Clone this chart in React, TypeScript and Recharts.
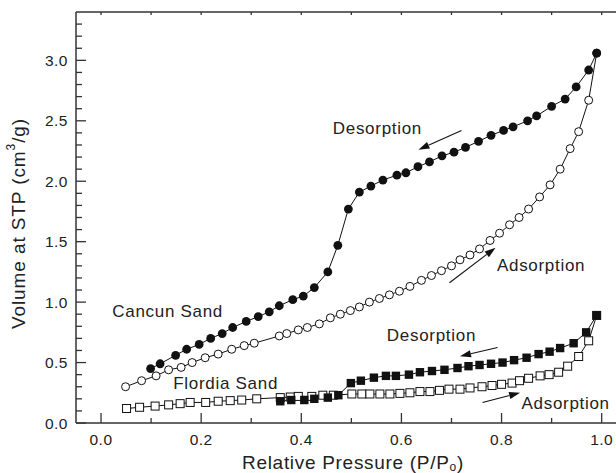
import React from 'react';
import { LineChart, Line, XAxis, YAxis, ReferenceDot, ReferenceLine, Label } from 'recharts';

// [P/P0, volume]
const cancunAdsorption = [
  [0.049, 0.30], [0.081, 0.35], [0.110, 0.39], [0.135, 0.44], [0.160, 0.46], [0.182, 0.50],
  [0.208, 0.54], [0.234, 0.57], [0.261, 0.61], [0.286, 0.64], [0.306, 0.66], [0.356, 0.72],
  [0.371, 0.74], [0.394, 0.77], [0.412, 0.79], [0.436, 0.82], [0.458, 0.87], [0.478, 0.90],
  [0.498, 0.93], [0.516, 0.96], [0.536, 1.00], [0.556, 1.03], [0.576, 1.06], [0.596, 1.09],
  [0.617, 1.13], [0.640, 1.18], [0.660, 1.22], [0.680, 1.26], [0.700, 1.30], [0.717, 1.35],
  [0.737, 1.39], [0.756, 1.44], [0.777, 1.51], [0.796, 1.57], [0.816, 1.64], [0.835, 1.70],
  [0.854, 1.77], [0.876, 1.87], [0.897, 1.97], [0.917, 2.10], [0.937, 2.27], [0.954, 2.41],
  [0.974, 2.67], [0.990, 3.06],
];

const cancunDesorption = [
  [0.099, 0.45], [0.118, 0.49], [0.149, 0.56], [0.171, 0.61], [0.196, 0.65], [0.219, 0.70],
  [0.242, 0.74], [0.263, 0.79], [0.290, 0.84], [0.314, 0.88], [0.336, 0.92], [0.356, 0.97],
  [0.383, 1.02], [0.404, 1.05], [0.426, 1.12], [0.453, 1.25], [0.473, 1.47], [0.494, 1.77],
  [0.516, 1.91], [0.539, 1.96], [0.563, 2.01], [0.591, 2.05], [0.609, 2.07], [0.633, 2.12],
  [0.656, 2.16], [0.681, 2.21], [0.705, 2.24], [0.728, 2.28], [0.754, 2.33], [0.779, 2.38],
  [0.804, 2.42], [0.823, 2.45], [0.852, 2.50], [0.870, 2.54], [0.900, 2.62], [0.927, 2.68],
  [0.949, 2.78], [0.974, 2.92], [0.990, 3.06],
];

const floridaAdsorption = [
  [0.051, 0.12], [0.077, 0.13], [0.108, 0.14], [0.135, 0.15], [0.158, 0.16], [0.178, 0.17],
  [0.209, 0.17], [0.234, 0.18], [0.258, 0.185], [0.281, 0.19], [0.311, 0.20], [0.358, 0.21],
  [0.378, 0.215], [0.394, 0.22], [0.421, 0.22], [0.443, 0.23], [0.464, 0.23], [0.501, 0.24],
  [0.521, 0.24], [0.537, 0.24], [0.557, 0.24], [0.577, 0.24], [0.597, 0.245], [0.617, 0.25],
  [0.637, 0.26], [0.657, 0.26], [0.676, 0.27], [0.695, 0.28], [0.717, 0.28], [0.737, 0.29],
  [0.761, 0.30], [0.781, 0.31], [0.800, 0.32], [0.821, 0.33], [0.836, 0.35], [0.854, 0.37],
  [0.877, 0.39], [0.895, 0.40], [0.914, 0.42], [0.932, 0.47], [0.954, 0.55], [0.974, 0.68],
  [0.990, 0.89],
];

const floridaDesorption = [
  [0.358, 0.18], [0.380, 0.19], [0.406, 0.19], [0.426, 0.20], [0.453, 0.21], [0.474, 0.23],
  [0.499, 0.33], [0.519, 0.35], [0.545, 0.375], [0.569, 0.39], [0.589, 0.39], [0.615, 0.40],
  [0.637, 0.42], [0.661, 0.43], [0.686, 0.44], [0.712, 0.455], [0.734, 0.47], [0.756, 0.48],
  [0.779, 0.49], [0.802, 0.50], [0.825, 0.52], [0.850, 0.54], [0.874, 0.57], [0.896, 0.59],
  [0.917, 0.62], [0.944, 0.66], [0.969, 0.75], [0.990, 0.89],
];

const xTicks = [0.0, 0.1, 0.2, 0.3, 0.4, 0.5, 0.6, 0.7, 0.8, 0.9, 1.0];
const xLabels = ['0.0', '0.2', '0.4', '0.6', '0.8', '1.0'];
const yTicks = [
  0.0, 0.1, 0.2, 0.3, 0.4, 0.5, 0.6, 0.7, 0.8, 0.9, 1.0, 1.1, 1.2, 1.3, 1.4, 1.5, 1.6,
  1.7, 1.8, 1.9, 2.0, 2.1, 2.2, 2.3, 2.4, 2.5, 2.6, 2.7, 2.8, 2.9, 3.0, 3.1, 3.2, 3.3,
];
const yLabels = ['0.0', '0.5', '1.0', '1.5', '2.0', '2.5', '3.0'];

// annotations: [x, y, text]
const notes: [number, number, string][] = [
  [0.552, 2.44, 'Desorption'],
  [0.879, 1.3, 'Adsorption'],
  [0.133, 0.92, 'Cancun Sand'],
  [0.249, 0.33, 'Flordia Sand'],
  [0.66, 0.72, 'Desorption'],
  [0.928, 0.16, 'Adsorption'],
];
// arrows: [x1, y1, x2, y2] (head at the second point)
const arrows = [
  [0.72, 2.42, 0.634, 2.26],
  [0.696, 1.16, 0.788, 1.45],
  [0.792, 0.624, 0.717, 0.552],
  [0.762, 0.169, 0.837, 0.251],
];

const toRows = (pts: number[][]) => pts.map(([x, y]) => ({ x, y }));

const INK = '#111';
const AXIS = '#333';
const FONT = '"Liberation Sans", Arial, sans-serif';

const label = (v: number, list: string[]) => list.includes(v.toFixed(1));

const BottomTick = (p: any) => {
  const v = p.payload.value;
  const major = label(v, xLabels);
  return (
    <g>
      <line x1={p.x} x2={p.x} y1={p.y} y2={p.y - (major ? 10 : 5)} stroke={AXIS} strokeWidth={1.3} />
      {major && (
        <text x={p.x} y={p.y + 16} textAnchor="middle" dominantBaseline="central" fontSize={15.5}
          letterSpacing={0.5} fill="#222" fontFamily={FONT}>
          {v.toFixed(1)}
        </text>
      )}
    </g>
  );
};

const TopTick = (p: any) => (
  <line x1={p.x} x2={p.x} y1={p.y} y2={p.y + 3} stroke={AXIS} strokeWidth={1.3} />
);

const LeftTick = (p: any) => {
  const v = p.payload.value;
  const major = label(v, yLabels);
  return (
    <g>
      <line x1={p.x} x2={p.x + (major ? 10 : 6)} y1={p.y} y2={p.y} stroke={AXIS} strokeWidth={1.3} />
      {major && (
        <text x={p.x - 8} y={p.y} textAnchor="end" dominantBaseline="central" fontSize={15.5}
          letterSpacing={0.5} fill="#222" fontFamily={FONT}>
          {v.toFixed(1)}
        </text>
      )}
    </g>
  );
};

const FilledCircle = (p: any) => <circle key={p.index} cx={p.cx} cy={p.cy} r={4.4} fill={INK} />;
const OpenCircle = (p: any) => (
  <circle key={p.index} cx={p.cx} cy={p.cy} r={4} fill="#fff" stroke={INK} strokeWidth={1} />
);
const FilledSquare = (p: any) => (
  <rect key={p.index} x={p.cx - 4.2} y={p.cy - 4.2} width={8.4} height={8.4} fill={INK} />
);
const OpenSquare = (p: any) => (
  <rect key={p.index} x={p.cx - 4} y={p.cy - 4} width={8} height={8} fill="#fff" stroke={INK} strokeWidth={1} />
);

const Arrow = (p: any) => {
  const { x1, y1, x2, y2 } = p;
  const dx = x2 - x1;
  const dy = y2 - y1;
  const len = Math.sqrt(dx * dx + dy * dy) || 1;
  const ux = dx / len;
  const uy = dy / len;
  const hl = 11;
  const hw = 3.6;
  const bx = x2 - ux * hl;
  const by = y2 - uy * hl;
  return (
    <g>
      <line x1={x1} y1={y1} x2={bx} y2={by} stroke={INK} strokeWidth={1.1} />
      <polygon
        points={`${x2},${y2} ${bx - uy * hw},${by + ux * hw} ${bx + uy * hw},${by - ux * hw}`}
        fill={INK}
      />
    </g>
  );
};

const XTitle = (p: any) => {
  const vb = p.viewBox;
  return (
    <text x={vb.x + vb.width / 2 + 7} y={vb.y + 39} textAnchor="middle" dominantBaseline="central"
      fontSize={19} letterSpacing={0.7} fill="#222" fontFamily={FONT}>
      Relative Pressure (P/P<tspan dy={5} fontSize={12}>o</tspan><tspan dy={-5}>)</tspan>
    </text>
  );
};

const YTitle = (p: any) => {
  const vb = p.viewBox;
  const cx = vb.x + vb.width - 58;
  const cy = vb.y + vb.height / 2 + 6;
  return (
    <text x={cx} y={cy} transform={`rotate(-90 ${cx} ${cy})`} textAnchor="middle" dominantBaseline="central"
      fontSize={19} letterSpacing={0.9} fill="#222" fontFamily={FONT}>
      Volume at STP (cm<tspan dy={-7} fontSize={12}>3</tspan><tspan dy={7}>/g)</tspan>
    </text>
  );
};

export default function App() {
  return (
    <div style={{ position: 'absolute', left: 0, top: 0, background: '#fff' }}>
      <LineChart width={616} height={473} margin={{ top: 11, right: 0, bottom: 49, left: 75 }}>
        <XAxis
          xAxisId="b"
          type="number"
          dataKey="x"
          domain={[-0.05, 1.0286]}
          ticks={xTicks}
          interval={0}
          height={1}
          tickSize={0}
          tickMargin={0}
          tickLine={false}
          tick={BottomTick}
          axisLine={{ stroke: AXIS, strokeWidth: 1.5 }}
          allowDataOverflow
        >
          <Label content={XTitle} />
        </XAxis>
        <XAxis
          xAxisId="t"
          orientation="top"
          type="number"
          dataKey="x"
          domain={[-0.05, 1.0286]}
          ticks={xTicks}
          interval={0}
          height={1}
          tickSize={0}
          tickMargin={0}
          tickLine={false}
          tick={TopTick}
          axisLine={{ stroke: AXIS, strokeWidth: 1.5 }}
          allowDataOverflow
        />
        <YAxis
          type="number"
          domain={[0, 3.4]}
          ticks={yTicks}
          interval={0}
          width={1}
          tickSize={0}
          tickMargin={0}
          tickLine={false}
          tick={LeftTick}
          axisLine={{ stroke: AXIS, strokeWidth: 1.5 }}
          allowDataOverflow
        >
          <Label content={YTitle} />
        </YAxis>

        <Line xAxisId="b" data={toRows(cancunAdsorption)} dataKey="y" stroke={INK} strokeWidth={1}
          dot={OpenCircle} activeDot={false} isAnimationActive={false} />
        <Line xAxisId="b" data={toRows(cancunDesorption)} dataKey="y" stroke={INK} strokeWidth={1}
          dot={FilledCircle} activeDot={false} isAnimationActive={false} />
        <Line xAxisId="b" data={toRows(floridaAdsorption)} dataKey="y" stroke={INK} strokeWidth={1}
          dot={OpenSquare} activeDot={false} isAnimationActive={false} />
        <Line xAxisId="b" data={toRows(floridaDesorption)} dataKey="y" stroke={INK} strokeWidth={1}
          dot={FilledSquare} activeDot={false} isAnimationActive={false} />

        {arrows.map(([x1, y1, x2, y2], i) => (
          <ReferenceLine key={`a${i}`} xAxisId="b" segment={[{ x: x1, y: y1 }, { x: x2, y: y2 }]} shape={Arrow} />
        ))}
        {notes.map(([x, y, t], i) => (
          <ReferenceDot
            key={`n${i}`}
            xAxisId="b"
            x={x}
            y={y}
            r={0}
            shape={(p: any) => (
              <text x={p.cx} y={p.cy} textAnchor="middle" dominantBaseline="central" fontSize={17}
                letterSpacing={0.7} fill="#222" fontFamily={FONT}>
                {t}
              </text>
            )}
          />
        ))}
      </LineChart>
    </div>
  );
}
